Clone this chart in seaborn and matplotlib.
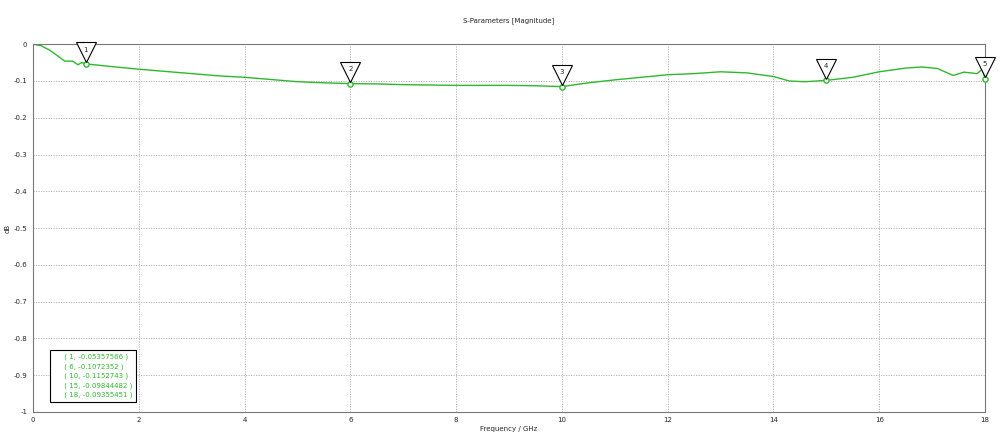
import matplotlib
matplotlib.use("Agg")
import matplotlib.pyplot as plt
import seaborn as sns
import pandas as pd

freq = [0, 0.15, 0.3, 0.45, 0.6, 0.75, 0.85, 0.92, 1.0, 1.5, 2, 2.5, 3, 3.5, 4, 4.5, 5, 5.5, 6, 6.5, 7, 7.5, 8, 8.5, 9, 9.5, 10,
        10.5, 11, 11.5, 12, 12.5, 13, 13.5, 14, 14.3, 14.6, 15, 15.5, 16, 16.5, 16.8, 17.1, 17.4, 17.6, 17.85, 17.95, 18]
mag = [0, -0.004, -0.015, -0.03, -0.046, -0.046, -0.056, -0.05, -0.0536, -0.061, -0.068, -0.074, -0.08, -0.086, -0.09, -0.096, -0.102, -0.105, -0.1072,
       -0.108, -0.110, -0.111, -0.112, -0.112, -0.112, -0.113, -0.1153,
       -0.105, -0.097, -0.09, -0.083, -0.08, -0.075, -0.078, -0.088, -0.1, -0.102, -0.0984, -0.09, -0.075, -0.065, -0.062, -0.066, -0.085, -0.076, -0.08, -0.068, -0.0936]
marker_x = [1, 6, 10, 15, 18]
marker_y = [-0.05357566, -0.1072352, -0.1152743, -0.09844482, -0.09355451]
marker_txt = ["( 1, -0.05357566 )", "( 6, -0.1072352 )", "( 10, -0.1152743 )", "( 15, -0.09844482 )", "( 18, -0.09355451 )"]

green = "#2eb82e"
sns.set_style("white")
fig, ax = plt.subplots(figsize=(10, 4.42), dpi=100)
fig.subplots_adjust(left=0.033, right=0.985, top=0.9, bottom=0.068)
sns.lineplot(x=freq, y=mag, ax=ax, color=green, lw=1)
sns.scatterplot(x=marker_x, y=marker_y, ax=ax, s=14, facecolor="white", edgecolor=green, linewidth=1, zorder=5, clip_on=False)
for i, (x, y) in enumerate(zip(marker_x, marker_y)):
    ax.plot([x], [y + 0.032], marker="v", ms=14, mfc="white", mec="black", mew=0.8, clip_on=False, zorder=6)
    ax.text(x, y + 0.039, str(i + 1), fontsize=5, ha="center", va="center", zorder=7)
ax.set_xlim(0, 18)
ax.set_ylim(-1, 0)
ax.set_xticks(range(0, 19, 2))
ax.set_yticks([i / 10 for i in range(-10, 1)])
ax.set_yticklabels(["-1", "-0.9", "-0.8", "-0.7", "-0.6", "-0.5", "-0.4", "-0.3", "-0.2", "-0.1", "0"])
ax.tick_params(labelsize=5, length=0, pad=4)
ax.grid(True, ls=(0, (1.5, 1.5)), color="#b0b0b0", lw=0.6)
for s in ax.spines.values():
    s.set_color("#777777"); s.set_linewidth(0.8)
ax.set_xlabel("Frequency / GHz", fontsize=5, labelpad=2)
ax.set_ylabel("dB", fontsize=5, labelpad=2)
ax.set_title("S-Parameters [Magnitude]", fontsize=5, pad=16)
txt = "\n".join("     " + t for t in marker_txt)
ax.text(0.021, 0.037, txt, transform=ax.transAxes, fontsize=5, color=green, va="bottom", linespacing=1.6,
        bbox=dict(facecolor="white", edgecolor="black", lw=0.8, boxstyle="square,pad=0.5"))
fig.savefig("out.png", dpi=100)
